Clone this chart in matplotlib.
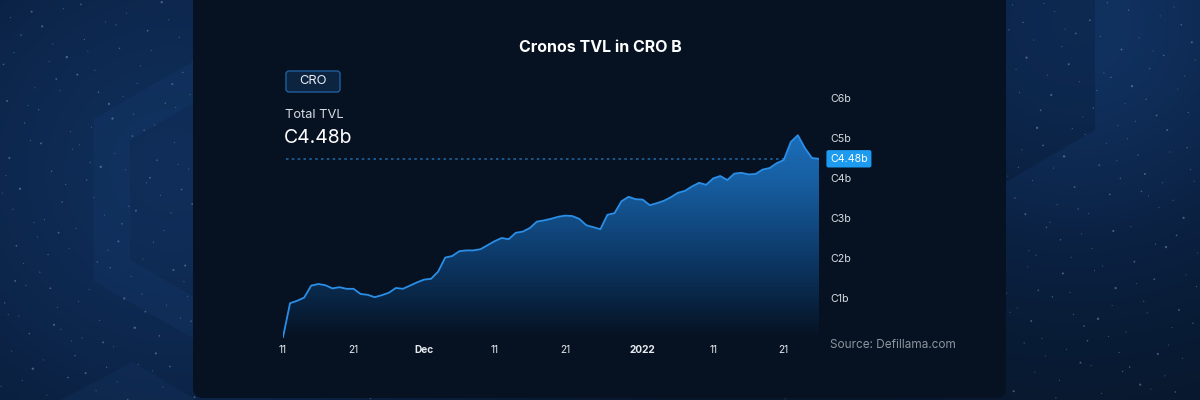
import numpy as np
import pandas as pd
import matplotlib
matplotlib.use("Agg")
import matplotlib.pyplot as plt
import matplotlib.dates as mdates
from matplotlib.patches import FancyBboxPatch, PathPatch, Polygon
from matplotlib.path import Path
from matplotlib.colors import LinearSegmentedColormap

plt.rcParams["font.family"] = ["Inter", "DejaVu Sans"]

# daily Cronos TVL, billions of CRO, 11 Nov 2021 .. 26 Jan 2022
tvl = [
    0.02, 0.87, 0.93, 1.01, 1.31, 1.35, 1.32, 1.24, 1.27, 1.23,
    1.23, 1.10, 1.08, 1.02, 1.07, 1.13, 1.25, 1.23, 1.31, 1.39,
    1.46, 1.48, 1.66, 2.01, 2.05, 2.17, 2.19, 2.19, 2.22, 2.32,
    2.42, 2.50, 2.47, 2.63, 2.66, 2.75, 2.91, 2.94, 2.98, 3.03,
    3.06, 3.05, 2.98, 2.82, 2.77, 2.72, 3.08, 3.12, 3.42, 3.53,
    3.47, 3.46, 3.32, 3.37, 3.43, 3.52, 3.63, 3.68, 3.79, 3.88,
    3.83, 3.99, 4.05, 3.95, 4.11, 4.13, 4.09, 4.10, 4.21, 4.25,
    4.37, 4.45, 4.90, 5.07, 4.75, 4.50, 4.48,
]
dates = pd.date_range("2021-11-11", periods=len(tvl), freq="D")
current = 4.48

xtick_dates = pd.to_datetime([
    "2021-11-11", "2021-11-21", "2021-12-01", "2021-12-11",
    "2021-12-21", "2022-01-01", "2022-01-11", "2022-01-21",
])
xtick_labels = ["11", "21", "Dec", "11", "21", "2022", "11", "21"]
ytick_vals = [1, 2, 3, 4, 5, 6]
ytick_labels = ["C1b", "C2b", "C3b", "C4b", "C5b", "C6b"]

fig = plt.figure(figsize=(12, 4), dpi=100)

# ---- background (pixel coordinates) ----
bg = fig.add_axes([0, 0, 1, 1])
bg.set_xlim(0, 1200)
bg.set_ylim(400, 0)
bg.axis("off")

gx, gy = np.meshgrid(np.linspace(0, 1200, 240), np.linspace(0, 400, 80))
glow = (np.exp(-((gx - 170) ** 2 + (gy - 170) ** 2) / (2 * 260 ** 2)) * 0.8
        + np.exp(-((gx - 1080) ** 2 + (gy - 20) ** 2) / (2 * 200 ** 2)) * 0.9)
bg_cmap = LinearSegmentedColormap.from_list("bg", ["#071628", "#0b2244", "#123566"])
bg.imshow(np.clip(glow, 0, 1), extent=[0, 1200, 400, 0], cmap=bg_cmap,
          vmin=0, vmax=1, aspect="auto", interpolation="bicubic", zorder=0)

# faint hexagon ring (logo shape) on the left
def hexagon(cx, cy, r):
    ang = np.deg2rad(np.arange(90, 450, 60))
    return np.column_stack([cx + r * np.cos(ang), cy - r * np.sin(ang)])

outer = hexagon(234, 200, 162)
inner = hexagon(234, 200, 120)[::-1]
verts = np.vstack([outer, outer[:1], inner, inner[:1]])
codes = ([Path.MOVETO] + [Path.LINETO] * 5 + [Path.CLOSEPOLY]) * 2
bg.add_patch(PathPatch(Path(verts, codes), fc="#2a5a9a", ec="none", alpha=0.10, zorder=1))
bg.add_patch(Polygon([[60, 400], [133, 362], [193, 398], [193, 400]],
                     closed=True, fc="#2a5a9a", ec="none", alpha=0.10, zorder=1))
bg.add_patch(Polygon([[1006, 0], [1095, 0], [1095, 130], [1006, 182]],
                     closed=True, fc="#030b18", ec="none", alpha=0.2, zorder=1))

# stars from a Halton sequence
def halton(i, b):
    f, r = 1.0, 0.0
    while i > 0:
        f /= b
        r += f * (i % b)
        i //= b
    return r

sx = [halton(i, 2) * 1200 for i in range(1, 900)]
sy = [halton(i, 3) * 400 for i in range(1, 900)]
ss = [0.6 + 2.5 * halton(i, 5) ** 4 for i in range(1, 900)]
bg.scatter(sx, sy, s=ss, c="#9fb8dc", alpha=0.4, lw=0, zorder=2)

# panel
bg.add_patch(FancyBboxPatch((193, -30), 813, 428,
                            boxstyle="round,pad=0,rounding_size=10",
                            fc="#061222", ec="none", zorder=3))

# header texts
bg.text(600, 47, "Cronos TVL in CRO B", ha="center", va="center",
        fontsize=11.5, fontweight="bold", color="white", zorder=5)
bg.add_patch(FancyBboxPatch((286, 71), 54, 21,
                            boxstyle="round,pad=0,rounding_size=3",
                            fc="#0d2441", ec="#1f5f9f", lw=1, zorder=4))
bg.text(313, 81.5, "CRO", ha="center", va="center", fontsize=9.3,
        color="#e8edf3", zorder=5)
bg.text(285, 115, "Total TVL", ha="left", va="center", fontsize=9.3,
        color="#d6dbe2", zorder=5)
bg.text(284, 138, "C4.48b", ha="left", va="center", fontsize=14,
        color="white", zorder=5)
bg.text(830, 345, "Source: Defillama.com", ha="left", va="center",
        fontsize=8.5, color="#8d949e", zorder=5)

# ---- chart ----
ax = fig.add_axes([283 / 1200, 1 - 338 / 400, (819 - 283) / 1200, 240 / 400])
ax.set_facecolor("none")
ax.plot(dates, tvl, color="#2a8ee6", lw=1.3, zorder=4)
ax.set_xlim(dates[0], dates[-1])
ax.set_ylim(0, 6)

x0, x1 = mdates.date2num(dates[0]), mdates.date2num(dates[-1])
grad = np.linspace(0, 1, 200).reshape(-1, 1)
fill_cmap = LinearSegmentedColormap.from_list(
    "fill", [(0.0, "#061222"), (0.08, "#071a30"), (0.35, "#0c3561"),
             (0.75, "#175ea1"), (1.0, "#1c6fbd")])
im = ax.imshow(grad, extent=[x0, x1, 0, 5.2], origin="lower", aspect="auto",
               cmap=fill_cmap, zorder=2)
poly = ax.fill_between(dates, tvl, 0, color="none", lw=0)
im.set_clip_path(poly.get_paths()[0], transform=ax.transData)
ax.set_xlim(dates[0], dates[-1])
ax.set_ylim(0, 6)

ax.axhline(current, xmin=0.005, xmax=1, color="#1f639f", lw=1.2,
           ls=(0, (1.5, 2)), zorder=3)

ax.set_xticks(xtick_dates)
ax.set_xticklabels(xtick_labels)
for lbl in ax.get_xticklabels():
    if lbl.get_text() in ("Dec", "2022"):
        lbl.set_fontweight("bold")
ax.tick_params(axis="x", length=0, pad=5, labelsize=7.3, colors="#e6eaef")

ax.yaxis.tick_right()
ax.set_yticks(ytick_vals)
ax.set_yticklabels(ytick_labels)
ax.tick_params(axis="y", length=0, pad=8, labelsize=7.6, colors="#d8dde3")

for s in ax.spines.values():
    s.set_visible(False)

ax.annotate("C4.48b", xy=(1, current), xycoords=("axes fraction", "data"),
            xytext=(8, 0), textcoords="offset points", ha="left", va="center",
            fontsize=7.6, color="white", zorder=6,
            bbox=dict(boxstyle="round,pad=0.35,rounding_size=0.2",
                      fc="#1d9bf0", ec="none"))

fig.savefig("out.png", dpi=100)
